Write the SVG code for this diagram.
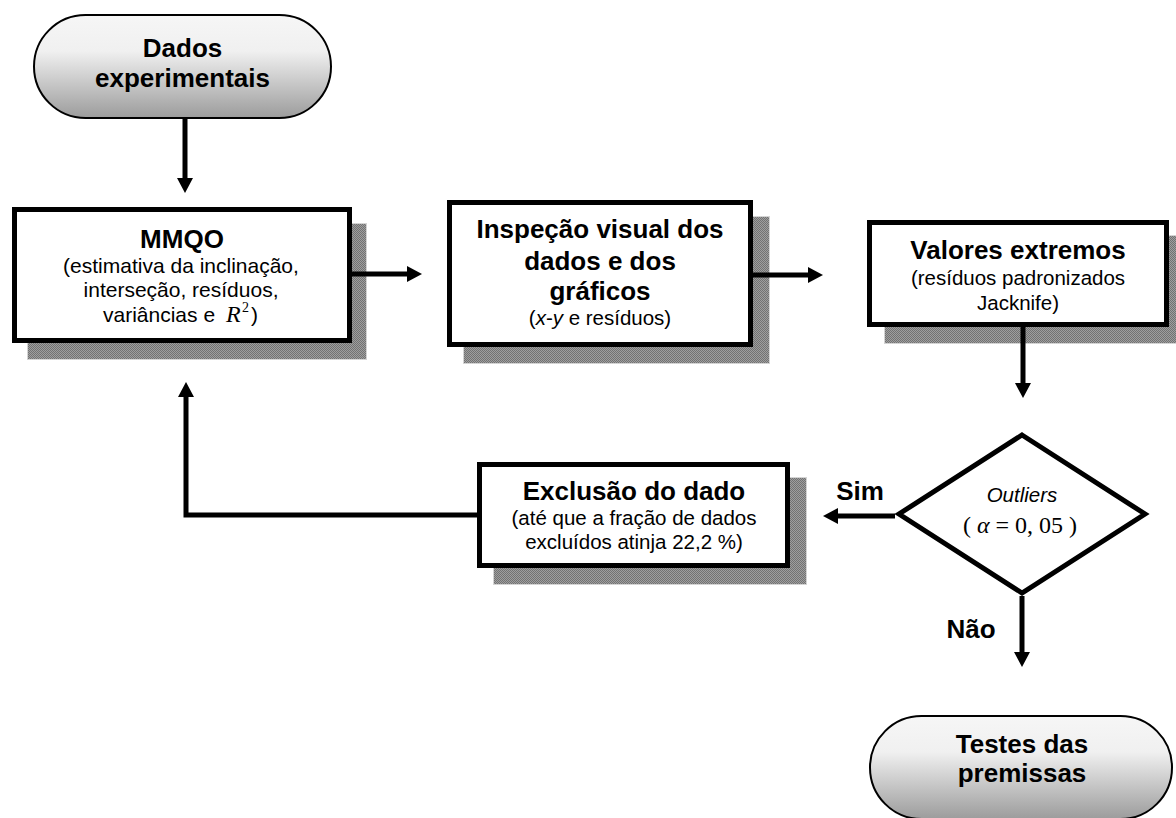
<svg xmlns="http://www.w3.org/2000/svg" width="1176" height="818" viewBox="0 0 1176 818">
<style>
.t{font-family:"Liberation Sans",Arial,sans-serif;font-weight:bold;font-size:26px;fill:#000;text-anchor:middle}
.s{font-family:"Liberation Sans",Arial,sans-serif;font-size:20.5px;fill:#000;text-anchor:middle}
.m{font-family:"Liberation Serif","Times New Roman",serif;fill:#000}
.box{fill:#fff;stroke:#000;stroke-width:5}
.shadow{fill:url(#dither);stroke:#d4d4d4;stroke-width:1}
.term{fill:url(#grad);stroke:#000;stroke-width:2}
.conn{fill:none;stroke:#000;stroke-width:5;marker-end:url(#ah)}
</style>
<defs>
<linearGradient id="grad" x1="0" y1="0" x2="0" y2="1">
<stop offset="0" stop-color="#f6f6f6"/>
<stop offset="0.35" stop-color="#f0f0f0"/>
<stop offset="1" stop-color="#9c9c9c"/>
</linearGradient>
<pattern id="dither" width="2" height="2" patternUnits="userSpaceOnUse">
<rect width="2" height="2" fill="#9e9e9e"/>
<rect width="1" height="1" fill="#727272"/>
<rect x="1" y="1" width="1" height="1" fill="#727272"/>
</pattern>
<marker id="ah" markerUnits="userSpaceOnUse" markerWidth="16" markerHeight="16" refX="0" refY="8" orient="auto">
<path d="M0,0 L15,8 L0,16 z" fill="#000"/>
</marker>
</defs>

<g id="dados">
<rect class="term" x="34" y="15" width="297" height="103" rx="51.5" ry="51.5"/>
<text class="t" x="182.5" y="57">Dados</text>
<text class="t" x="182.5" y="87">experimentais</text>
</g>

<g id="mmqo">
<rect class="shadow" x="27.5" y="223.5" width="339" height="136"/>
<rect class="box" x="14.5" y="209.5" width="335" height="131"/>
<text class="t" x="182" y="248">MMQO</text>
<text class="s" x="181" y="273" style="font-size:21px">(estimativa da inclinação,</text>
<text class="s" x="181" y="297" style="font-size:21px">interseção, resíduos,</text>
<text class="s" x="103" y="322" style="font-size:21px;text-anchor:start">variâncias e</text>
<text class="m" x="226" y="322" style="font-size:24px;font-style:italic">R</text>
<text class="m" x="242" y="312" style="font-size:14px">2</text>
<text class="s" x="251" y="322" style="font-size:21px;text-anchor:start">)</text>
</g>

<g id="inspecao">
<rect class="shadow" x="463.5" y="216.5" width="306" height="147"/>
<rect class="box" x="449.5" y="202.5" width="301" height="142"/>
<text class="t" x="600" y="238">Inspeção visual dos</text>
<text class="t" x="600" y="270">dados e dos</text>
<text class="t" x="600" y="300">gráficos</text>
<text class="s" x="600" y="325">(<tspan font-style="italic">x</tspan>-<tspan font-style="italic">y</tspan> e resíduos)</text>
</g>

<g id="valores">
<rect class="shadow" x="884.5" y="235.5" width="300" height="108"/>
<rect class="box" x="869.5" y="222.5" width="297" height="102"/>
<text class="t" x="1018" y="259">Valores extremos</text>
<text class="s" x="1018" y="285">(resíduos padronizados</text>
<text class="s" x="1018" y="310">Jacknife)</text>
</g>

<g id="outliers">
<polygon points="1022,435 1145,514 1022,593 899,514" fill="#fff" stroke="#000" stroke-width="5" stroke-linejoin="miter"/>
<text class="s" x="1022" y="502" style="font-style:italic">Outliers</text>
<text class="m" x="1020" y="533" style="font-size:24px;text-anchor:middle">( <tspan font-style="italic">α</tspan> = 0, 05 )</text>
</g>

<g id="exclusao">
<rect class="shadow" x="493.5" y="477.5" width="313" height="107"/>
<rect class="box" x="479.5" y="464.5" width="308" height="101"/>
<text class="t" x="634" y="500">Exclusão do dado</text>
<text class="s" x="634" y="525">(até que a fração de dados</text>
<text class="s" x="634" y="549">excluídos atinja 22,2 %)</text>
</g>

<g id="labels">
<text class="t" x="860" y="500">Sim</text>
<text class="t" x="971" y="638">Não</text>
</g>

<g id="testes">
<rect class="term" x="870" y="716" width="302" height="103" rx="51.5" ry="51.5"/>
<text class="t" x="1022" y="753">Testes das</text>
<text class="t" x="1022" y="782">premissas</text>
</g>

<g id="connectors">
<path class="conn" d="M185,119 V178"/>
<path class="conn" d="M352,274 H407"/>
<path class="conn" d="M753,275 H808"/>
<path class="conn" d="M1023,327 V383"/>
<path class="conn" d="M895,516 H838"/>
<path class="conn" d="M1022,596 V652"/>
<path class="conn" d="M477,515 H186 V397"/>
</g>
</svg>
